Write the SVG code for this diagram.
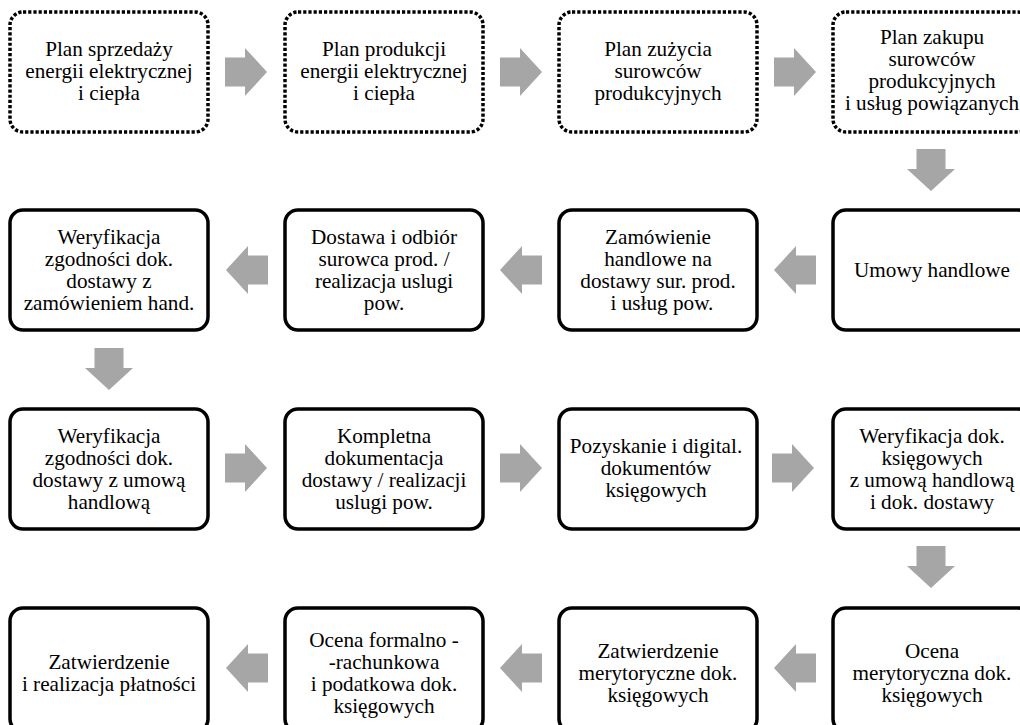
<svg xmlns="http://www.w3.org/2000/svg" xmlns:xlink="http://www.w3.org/1999/xlink" width="1020" height="725" viewBox="0 0 1020 725" font-family="Liberation Serif, Times New Roman, Times, serif">
<style>
.box{fill:#fff;stroke:#000;stroke-width:3.5}
.dot{fill:#fff;stroke:#000;stroke-width:3.5;stroke-dasharray:3.2 2}
text{font-family:"Liberation Serif","Times New Roman",Times,serif;font-size:21.2px;fill:#000;text-anchor:middle}
.arrow{fill:#a6a6a6}
</style>
<defs>
<path id="arr" d="M-21,-14.5 H-1 V-24 L21,0 L-1,24 V14.5 H-21 Z"/>
</defs>
<rect width="1020" height="725" fill="#fff"/>
<g id="connectors" class="arrow">
<use xlink:href="#arr" transform="translate(246,72)"/>
<use xlink:href="#arr" transform="translate(521,72)"/>
<use xlink:href="#arr" transform="translate(795,72)"/>
<use xlink:href="#arr" transform="translate(931,170) rotate(90)"/>
<use xlink:href="#arr" transform="translate(247,270) rotate(180)"/>
<use xlink:href="#arr" transform="translate(521,270) rotate(180)"/>
<use xlink:href="#arr" transform="translate(795,270) rotate(180)"/>
<use xlink:href="#arr" transform="translate(109,369) rotate(90)"/>
<use xlink:href="#arr" transform="translate(246,468)"/>
<use xlink:href="#arr" transform="translate(521,468)"/>
<use xlink:href="#arr" transform="translate(793,468)"/>
<use xlink:href="#arr" transform="translate(931,567) rotate(90)"/>
<use xlink:href="#arr" transform="translate(795,668) rotate(180)"/>
<use xlink:href="#arr" transform="translate(521,668) rotate(180)"/>
<use xlink:href="#arr" transform="translate(247,668) rotate(180)"/>
</g>
<g id="n1"><rect class="dot" x="10" y="12" width="198" height="120" rx="13"/>
<text x="109" y="56">Plan sprzedaży</text><text x="109" y="78">energii elektrycznej</text><text x="109" y="100">i ciepła</text></g>
<g id="n2"><rect class="dot" x="285" y="12" width="198" height="120" rx="13"/>
<text x="384" y="56">Plan produkcji</text><text x="384" y="78">energii elektrycznej</text><text x="384" y="100">i ciepła</text></g>
<g id="n3"><rect class="dot" x="559" y="12" width="198" height="120" rx="13"/>
<text x="658" y="56">Plan zużycia</text><text x="658" y="78">surowców</text><text x="658" y="100">produkcyjnych</text></g>
<g id="n4"><rect class="dot" x="833" y="12" width="198" height="120" rx="13"/>
<text x="932" y="44">Plan zakupu</text><text x="932" y="66">surowców</text><text x="932" y="88">produkcyjnych</text><text x="932" y="110">i usług powiązanych</text></g>
<g id="n5"><rect class="box" x="833" y="210" width="198" height="120" rx="13"/>
<text x="932" y="277">Umowy handlowe</text></g>
<g id="n6"><rect class="box" x="559" y="210" width="198" height="120" rx="13"/>
<text x="658" y="244">Zamówienie</text><text x="658" y="266">handlowe na</text><text x="658" y="288">dostawy sur. prod.</text><text x="662" y="310">i usług pow.</text></g>
<g id="n7"><rect class="box" x="285" y="210" width="198" height="120" rx="13"/>
<text x="384" y="244">Dostawa i odbiór</text><text x="384" y="266">surowca prod. /</text><text x="384" y="288">realizacja uslugi</text><text x="384" y="310">pow.</text></g>
<g id="n8"><rect class="box" x="10" y="210" width="198" height="120" rx="13"/>
<text x="109" y="244">Weryfikacja</text><text x="109" y="266">zgodności dok.</text><text x="109" y="288">dostawy z</text><text x="109" y="310">zamówieniem hand.</text></g>
<g id="n9"><rect class="box" x="10" y="409" width="198" height="120" rx="13"/>
<text x="109" y="443">Weryfikacja</text><text x="109" y="465">zgodności dok.</text><text x="109" y="487">dostawy z umową</text><text x="109" y="509">handlową</text></g>
<g id="n10"><rect class="box" x="285" y="409" width="198" height="120" rx="13"/>
<text x="384" y="443">Kompletna</text><text x="384" y="465">dokumentacja</text><text x="384" y="487">dostawy / realizacji</text><text x="384" y="509">uslugi pow.</text></g>
<g id="n11"><rect class="box" x="559" y="409" width="198" height="120" rx="13"/>
<text x="656" y="453">Pozyskanie i digital.</text><text x="656" y="475">dokumentów</text><text x="656" y="497">księgowych</text></g>
<g id="n12"><rect class="box" x="833" y="409" width="198" height="120" rx="13"/>
<text x="932" y="443">Weryfikacja dok.</text><text x="932" y="465">księgowych</text><text x="932" y="487">z umową handlową</text><text x="932" y="509">i dok. dostawy</text></g>
<g id="n13"><rect class="box" x="833" y="608" width="198" height="124" rx="13"/>
<text x="932" y="658">Ocena</text><text x="932" y="680">merytoryczna dok.</text><text x="932" y="702">księgowych</text></g>
<g id="n14"><rect class="box" x="559" y="608" width="198" height="124" rx="13"/>
<text x="658" y="658">Zatwierdzenie</text><text x="658" y="680">merytoryczne dok.</text><text x="658" y="702">księgowych</text></g>
<g id="n15"><rect class="box" x="285" y="608" width="198" height="124" rx="13"/>
<text x="384" y="647">Ocena formalno -</text><text x="384" y="669">-rachunkowa</text><text x="384" y="691">i podatkowa dok.</text><text x="384" y="713">księgowych</text></g>
<g id="n16"><rect class="box" x="10" y="608" width="198" height="124" rx="13"/>
<text x="109" y="669">Zatwierdzenie</text><text x="109" y="691">i realizacja płatności</text></g>
</svg>
